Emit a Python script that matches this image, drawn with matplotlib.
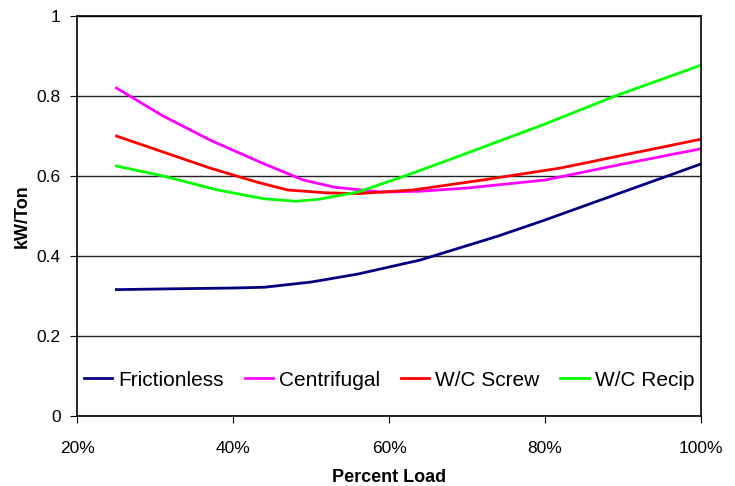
import matplotlib.pyplot as plt
from matplotlib.ticker import FuncFormatter

plt.rcParams['font.family'] = ['Liberation Sans', 'DejaVu Sans']

# loads (fraction) and kW/Ton values
fric_x = [0.25, 0.32, 0.40, 0.44, 0.50, 0.56, 0.64, 0.74, 0.80, 0.90, 1.00]
fric_y = [0.316, 0.318, 0.320, 0.322, 0.335, 0.355, 0.390, 0.450, 0.490, 0.560, 0.630]

cent_x = [0.25, 0.31, 0.37, 0.44, 0.49, 0.53, 0.59, 0.64, 0.70, 0.80, 0.90, 1.00]
cent_y = [0.820, 0.750, 0.690, 0.630, 0.590, 0.572, 0.560, 0.562, 0.570, 0.590, 0.630, 0.668]

screw_x = [0.25, 0.31, 0.37, 0.43, 0.47, 0.52, 0.56, 0.63, 0.72, 0.82, 0.92, 1.00]
screw_y = [0.700, 0.660, 0.620, 0.585, 0.565, 0.558, 0.556, 0.565, 0.590, 0.620, 0.660, 0.692]

recip_x = [0.25, 0.31, 0.38, 0.44, 0.48, 0.51, 0.56, 0.62, 0.69, 0.80, 0.89, 1.00]
recip_y = [0.625, 0.600, 0.565, 0.543, 0.537, 0.542, 0.560, 0.600, 0.650, 0.730, 0.800, 0.877]

fig = plt.figure(figsize=(7.35, 4.86), dpi=100)
ax = fig.add_axes([0.1054, 0.144, 0.848, 0.823])

ax.plot(fric_x, fric_y, color='#000080', lw=2, label='Frictionless')
ax.plot(cent_x, cent_y, color='#ff00ff', lw=2, label='Centrifugal')
ax.plot(screw_x, screw_y, color='#ff0000', lw=2, label='W/C Screw')
ax.plot(recip_x, recip_y, color='#00ff00', lw=2, label='W/C Recip')

ax.set_xlim(0.2, 1.0)
ax.set_ylim(0, 1)
ax.set_xticks([0.2, 0.4, 0.6, 0.8, 1.0])
ax.set_yticks([0, 0.2, 0.4, 0.6, 0.8, 1.0])
ax.xaxis.set_major_formatter(FuncFormatter(lambda v, p: f'{round(v * 100)}%'))
ax.yaxis.set_major_formatter(FuncFormatter(lambda v, p: f'{v:g}'))
ax.yaxis.grid(True, color='#222222', lw=1)
ax.set_axisbelow(True)
for s in ax.spines.values():
    s.set_color('black')
    s.set_linewidth(1.2)
ax.tick_params(direction='out', length=5, labelsize=12.5, color='black')
ax.tick_params(axis='x', pad=13)
ax.tick_params(axis='y', pad=7)

ax.set_xlabel('Percent Load', fontsize=13, fontweight='bold', labelpad=9)
ax.set_ylabel('kW/Ton', fontsize=13, fontweight='bold', labelpad=4)

ax.legend(loc='center', bbox_to_anchor=(0.5, 0.09), ncol=4, frameon=False,
          fontsize=15, handlelength=1.35, handletextpad=0.3, columnspacing=1.0)

fig.savefig('out.png', dpi=100)
